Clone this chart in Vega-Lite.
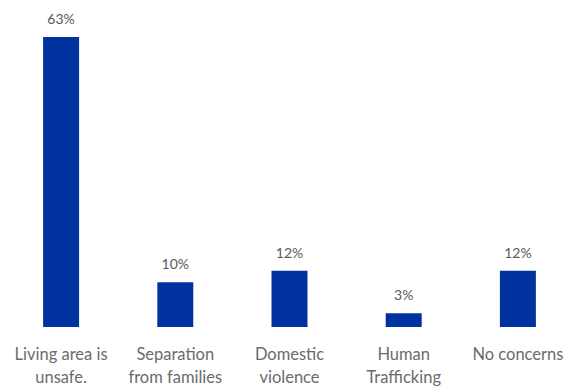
{
  "$schema": "https://vega.github.io/schema/vega-lite/v6.json",
  "width": 571,
  "height": 290,
  "autosize": {"type": "none"},
  "padding": {"left": 4, "top": 37, "right": 4, "bottom": 59},
  "background": "white",
  "config": {"view": {"stroke": null}, "font": "Lato"},
  "data": {
    "values": [
      {"category": "Living area is|unsafe.", "value": 63, "label": "63%"},
      {"category": "Separation|from families", "value": 9.7, "label": "10%"},
      {"category": "Domestic|violence", "value": 12.2, "label": "12%"},
      {"category": "Human|Trafficking", "value": 3, "label": "3%"},
      {"category": "No concerns", "value": 12.2, "label": "12%"}
    ]
  },
  "encoding": {
    "x": {
      "field": "category",
      "type": "nominal",
      "sort": null,
      "scale": {"paddingInner": 0.685, "paddingOuter": 0.3425},
      "axis": {
        "title": null,
        "domain": false,
        "ticks": false,
        "labelAngle": 0,
        "labelExpr": "split(datum.label, '|')",
        "labelFont": "Lato",
        "labelFontSize": 16.5,
        "labelColor": "#6b6b6b",
        "labelLineHeight": 23,
        "labelBaseline": "alphabetic",
        "labelPadding": 32
      }
    },
    "y": {
      "field": "value",
      "type": "quantitative",
      "scale": {"domain": [0, 63], "nice": false},
      "axis": null
    }
  },
  "layer": [
    {"mark": {"type": "bar", "color": "#0033a0"}},
    {
      "mark": {"type": "text", "baseline": "alphabetic", "dy": -13, "fontSize": 14, "color": "#595959", "font": "Lato"},
      "encoding": {"text": {"field": "label"}}
    }
  ]
}
